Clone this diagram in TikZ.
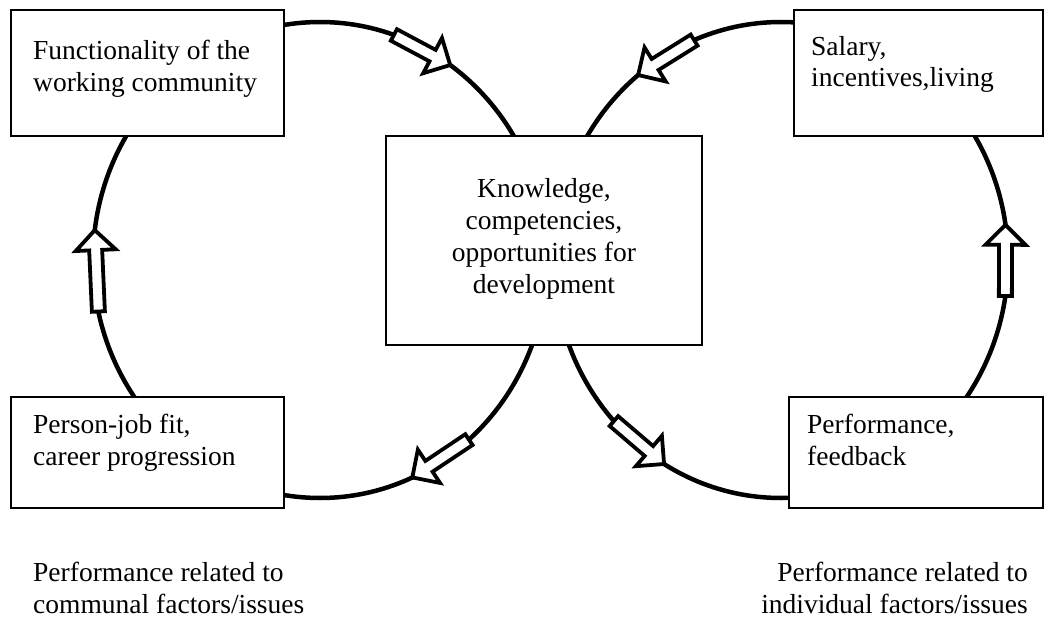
\documentclass[tikz,border=0pt]{standalone}
\usepackage{fontspec}
\setmainfont{Liberation Serif}
\usetikzlibrary{calc}

\tikzset{
  box/.style={draw, line width=2pt, fill=white, inner sep=0pt},
  cycleline/.style={line width=4.5pt},
  txt/.style={inner sep=0pt, font=\fontsize{27.5}{32}\selectfont},
  barrow/.style={draw, line width=3.8pt, fill=white, line join=miter},
}

% hollow block arrow lying on an ellipse (radii 227 x 238):
% #1 name, #2 ellipse centre, #3 tail angle, #4 tip angle
\newcommand\blockarr[4]{%
  \coordinate (#1-t) at ($(#2)+({227*cos(#3)},{-238*sin(#3)})$);
  \coordinate (#1-h) at ($(#2)+({227*cos(#4)},{-238*sin(#4)})$);
  \coordinate (#1-n) at ($(#1-h)!20pt!(#1-t)$);
  \draw[barrow]
    ($(#1-t)!6.5pt!90:(#1-h)$) -- ($(#1-n)!6.5pt!90:(#1-h)$) --
    ($(#1-n)!20pt!90:(#1-h)$) -- (#1-h) --
    ($(#1-n)!20pt!-90:(#1-h)$) -- ($(#1-n)!6.5pt!-90:(#1-h)$) --
    ($(#1-t)!6.5pt!-90:(#1-h)$) -- cycle;
}

\begin{document}
\begin{tikzpicture}[x=1pt, y=-1pt]
  \useasboundingbox (0,0) rectangle (1045,618);

  % the two cycles
  \coordinate (cL) at (320,260);
  \coordinate (cR) at (781,260);
  \draw[cycleline] (cL) ellipse [x radius=227, y radius=238];
  \draw[cycleline] (cR) ellipse [x radius=227, y radius=238];

  % boxes
  \node[box, minimum width=273, minimum height=125] (func) at (147,73) {};
  \node[box, minimum width=249, minimum height=125] (salary) at (918,73) {};
  \node[box, minimum width=316, minimum height=209] (know) at (544,240.5) {};
  \node[box, minimum width=273, minimum height=111] (fit) at (147,452.5) {};
  \node[box, minimum width=254, minimum height=111] (perf) at (915.5,452.5) {};

  % box texts (anchored on the baseline of the last line)
  \node[txt, anchor=base west, align=left] (funcT) at (33,92)
    {Functionality of the\\working community};
  \node[txt, anchor=base west, align=left] (salaryT) at (811,87)
    {Salary,\\incentives,living};
  \node[txt, anchor=base, align=center] (knowT) at (544,293)
    {Knowledge,\\competencies,\\opportunities for\\development};
  \node[txt, anchor=base west, align=left] (fitT) at (33,465)
    {Person-job fit,\\career progression};
  \node[txt, anchor=base west, align=left] (perfT) at (807,465)
    {Performance,\\feedback};

  % captions
  \node[txt, anchor=base west, align=left] (capL) at (33,613)
    {Performance related to\\communal factors/issues};
  \node[txt, anchor=base east, align=right] (capR) at (1028,613)
    {Performance related to\\individual factors/issues};

  % flow arrows
  \blockarr{aL1}{cL}{192.5}{172.8}
  \blockarr{aL2}{cL}{71}{55}
  \blockarr{aL3}{cL}{-49}{-66}
  \blockarr{aR1}{cR}{-8.7}{8.5}
  \blockarr{aR2}{cR}{112.5}{129}
  \blockarr{aR3}{cR}{222.6}{239}
\end{tikzpicture}
\end{document}
